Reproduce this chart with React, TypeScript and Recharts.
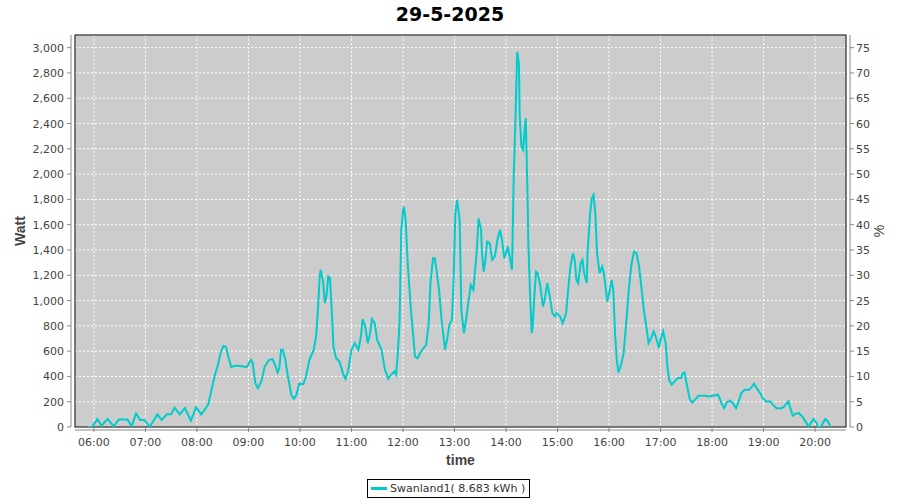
import React from 'react';
import { LineChart, Line, XAxis, YAxis, CartesianGrid, usePlotArea } from 'recharts';

const title = '29-5-2025';
const seriesName = 'Swanland1( 8.683 kWh )';

const times = [
    '05:53', '05:58', '06:04', '06:09', '06:16', '06:23', '06:29', '06:39', '06:44', '06:49',
    '06:54', '06:59', '07:05', '07:14', '07:19', '07:25', '07:30', '07:34', '07:40', '07:46',
    '07:53', '07:59', '08:05', '08:13', '08:17', '08:21', '08:24', '08:28', '08:31', '08:34',
    '08:37', '08:40', '08:44', '08:48', '08:54', '08:58', '09:03', '09:05', '09:08', '09:11',
    '09:15', '09:19', '09:24', '09:28', '09:31', '09:34', '09:36', '09:38', '09:40', '09:43',
    '09:46', '09:50', '09:53', '09:56', '09:59', '10:04', '10:07', '10:11', '10:16', '10:19',
    '10:21', '10:23', '10:24', '10:27', '10:29', '10:31', '10:33', '10:35', '10:37', '10:39',
    '10:42', '10:46', '10:50', '10:53', '10:56', '11:00', '11:04', '11:08', '11:11', '11:13',
    '11:16', '11:19', '11:21', '11:24', '11:27', '11:30', '11:35', '11:39', '11:43', '11:46',
    '11:50', '11:52', '11:54', '11:56', '11:58', '12:00', '12:01', '12:03', '12:06', '12:09',
    '12:12', '12:14', '12:17', '12:21', '12:27', '12:30', '12:32', '12:35', '12:37', '12:39',
    '12:42', '12:45', '12:49', '12:52', '12:54', '12:57', '12:59', '13:01', '13:03', '13:06',
    '13:08', '13:11', '13:14', '13:16', '13:19', '13:22', '13:26', '13:28', '13:31', '13:32',
    '13:34', '13:36', '13:38', '13:41', '13:44', '13:47', '13:50', '13:53', '13:55', '13:58',
    '14:00', '14:02', '14:05', '14:07', '14:09', '14:11', '14:13', '14:15', '14:16', '14:18',
    '14:20', '14:22', '14:23', '14:25', '14:26', '14:28', '14:30', '14:31', '14:33', '14:35',
    '14:37', '14:40', '14:43', '14:45', '14:48', '14:51', '14:54', '14:57', '14:59', '15:03',
    '15:06', '15:10', '15:12', '15:15', '15:18', '15:20', '15:22', '15:24', '15:27', '15:29',
    '15:31', '15:34', '15:35', '15:38', '15:40', '15:42', '15:44', '15:46', '15:49', '15:52',
    '15:54', '15:58', '16:01', '16:03', '16:05', '16:07', '16:09', '16:11', '16:14', '16:17',
    '16:20', '16:23', '16:26', '16:29', '16:32', '16:35', '16:38', '16:41', '16:44', '16:46',
    '16:49', '16:52', '16:55', '16:58', '17:00', '17:03', '17:06', '17:08', '17:10', '17:13',
    '17:17', '17:20', '17:24', '17:26', '17:28', '17:31', '17:34', '17:37', '17:40', '17:44',
    '17:48', '17:52', '17:57', '18:01', '18:07', '18:11', '18:14', '18:17', '18:21', '18:24',
    '18:28', '18:31', '18:34', '18:38', '18:43', '18:46', '18:49', '18:52', '18:56', '18:59',
    '19:03', '19:08', '19:11', '19:15', '19:21', '19:24', '19:29', '19:31', '19:34', '19:37',
    '19:41', '19:45', '19:50', '19:52', '19:55', '19:58', '20:02', '20:03', '20:07', '20:09',
    '20:12', '20:15', '20:18',
];

const watts = [
    0, 0, 62, 10, 65, 5, 60, 60, 5, 107,
    55, 55, 0, 100, 55, 100, 100, 154, 100, 150,
    50, 155, 100, 175, 294, 413, 478, 597, 642, 632,
    545, 473, 484, 484, 478, 473, 531, 505, 347, 307,
    360, 478, 531, 536, 492, 431, 466, 610, 610, 531,
    399, 255, 223, 255, 342, 339, 399, 531, 610, 729,
    940, 1190, 1243, 1150, 980, 1045, 1190, 1177, 926, 636,
    545, 518, 426, 379, 440, 610, 663, 610, 715, 853,
    794, 663, 715, 853, 821, 689, 610, 452, 381, 413,
    439, 413, 584, 821, 1559, 1704, 1743, 1638, 1243, 953,
    715, 557, 545, 597, 650, 821, 1138, 1335, 1335, 1243,
    1085, 848, 610, 715, 808, 848, 1164, 1691, 1796, 1638,
    926, 742, 874, 980, 1124, 1085, 1401, 1650, 1559, 1375,
    1229, 1322, 1466, 1454, 1322, 1348, 1480, 1559, 1493, 1335,
    1375, 1427, 1322, 1243, 1980, 2428, 2968, 2877, 2455, 2217,
    2191, 2375, 2442, 1862, 1454, 1058, 742, 794, 1032, 1229,
    1216, 1111, 953, 1006, 1138, 1032, 900, 874, 900, 874,
    821, 900, 1058, 1269, 1375, 1322, 1164, 1138, 1296, 1322,
    1216, 1138, 1375, 1691, 1810, 1836, 1691, 1375, 1216, 1269,
    1216, 992, 1085, 1164, 1085, 742, 531, 431, 492, 584,
    821, 1085, 1282, 1387, 1375, 1269, 1085, 900, 768, 663,
    703, 755, 703, 624, 689, 755, 663, 478, 373, 334,
    365, 387, 387, 426, 431, 320, 221, 194, 215, 247,
    247, 247, 241, 247, 255, 189, 149, 194, 210, 189,
    149, 202, 268, 294, 294, 315, 342, 307, 268, 228,
    202, 202, 175, 149, 149, 162, 202, 149, 89, 104,
    110, 83, 31, 0, 31, 62, 31, 0, 0, 31,
    62, 43, 0,
];

const hourTicks = [
    '06:00', '07:00', '08:00', '09:00', '10:00', '11:00', '12:00', '13:00',
    '14:00', '15:00', '16:00', '17:00', '18:00', '19:00', '20:00',
];
const wattTicks = [0, 200, 400, 600, 800, 1000, 1200, 1400, 1600, 1800, 2000, 2200, 2400, 2600, 2800, 3000];
const percentTicks = [0, 5, 10, 15, 20, 25, 30, 35, 40, 45, 50, 55, 60, 65, 70, 75];

const toMinutes = (t: string) => {
    const [h, m] = t.split(':').map(Number);
    return h * 60 + m;
};
const toClock = (min: number) => {
    const h = Math.floor(min / 60);
    const m = min % 60;
    return `${String(h).padStart(2, '0')}:${String(m).padStart(2, '0')}`;
};

const data = times.map((t, i) => ({ minute: toMinutes(t), watt: watts[i] }));

const LINE_COLOR = '#00cccc';
const AXIS_COLOR = '#888888';
const TEXT_COLOR = '#444444';
const TICK_FONT = 'DejaVu Sans, sans-serif';
const LABEL_FONT = 'Liberation Sans, Arial, sans-serif';

const LeftTick = ({ x, y, payload }: any) => (
    <g>
        <line x1={x - 4} y1={y} x2={x} y2={y} stroke={AXIS_COLOR} />
        <text x={x - 7} y={y + 4} textAnchor="end" fontSize={11} fill={TEXT_COLOR} fontFamily={TICK_FONT}>
            {Number(payload.value).toLocaleString('en-US')}
        </text>
    </g>
);

const RightTick = ({ x, y, payload }: any) => (
    <g>
        <line x1={x} y1={y} x2={x + 4} y2={y} stroke={AXIS_COLOR} />
        <text x={x + 6} y={y + 4} textAnchor="start" fontSize={11} fill={TEXT_COLOR} fontFamily={TICK_FONT}>
            {payload.value}
        </text>
    </g>
);

const BottomTick = ({ x, y, payload }: any) => (
    <g>
        <line x1={x} y1={y - 3} x2={x} y2={y + 1} stroke={AXIS_COLOR} />
        <text x={x} y={y + 15} textAnchor="middle" fontSize={11} fill={TEXT_COLOR} fontFamily={TICK_FONT}>
            {toClock(payload.value)}
        </text>
    </g>
);

const labelStyle = { fontSize: 14, fontWeight: 'bold' as const, fill: TEXT_COLOR, fontFamily: LABEL_FONT };

const WattLabel = ({ viewBox }: any) => {
    const cx = (viewBox?.x ?? 0) + 25;
    const cy = (viewBox?.y ?? 35) + (viewBox?.height ?? 392) / 2;
    return (
        <text x={cx} y={cy} transform={`rotate(-90 ${cx} ${cy})`} textAnchor="middle" {...labelStyle}>
            Watt
        </text>
    );
};

const PercentLabel = ({ viewBox }: any) => {
    const cx = (viewBox?.x ?? 846) + 38;
    const cy = (viewBox?.y ?? 35) + (viewBox?.height ?? 392) / 2;
    return (
        <text x={cx} y={cy} transform={`rotate(-90 ${cx} ${cy})`} textAnchor="middle" {...labelStyle} fontWeight="normal">
            %
        </text>
    );
};

const TimeLabel = ({ viewBox }: any) => {
    const cx = (viewBox?.x ?? 75) + (viewBox?.width ?? 771) / 2;
    const cy = (viewBox?.y ?? 427) + 38;
    return (
        <text x={cx} y={cy} textAnchor="middle" {...labelStyle}>
            time
        </text>
    );
};

// plot border plus the gray axis lines that sit a few pixels off the plot
const PlotFrame = () => {
    const area = usePlotArea();
    if (!area) return null;
    const { x, y, width, height } = area;
    return (
        <g>
            <rect x={x} y={y} width={width} height={height} fill="none" stroke="#000" />
            <line x1={x - 4} y1={y} x2={x - 4} y2={y + height} stroke={AXIS_COLOR} />
            <line x1={x + width + 4} y1={y} x2={x + width + 4} y2={y + height} stroke={AXIS_COLOR} />
            <line x1={x} y1={y + height + 3} x2={x + width} y2={y + height + 3} stroke={AXIS_COLOR} />
        </g>
    );
};

export default function App() {
    return (
        <div style={{ position: 'absolute', left: 0, top: 0, width: 900, height: 500, background: '#fff' }}>
            <div
                style={{
                    position: 'absolute', left: 0, top: 3, width: 900, textAlign: 'center',
                    fontFamily: 'DejaVu Sans, sans-serif', fontWeight: 'bold', fontSize: 19, lineHeight: '22px', color: '#000',
                }}
            >
                {title}
            </div>
            <LineChart width={900} height={500} data={data} margin={{ top: 35, right: 0, bottom: 33, left: 0 }}>
                <CartesianGrid yAxisId="watt" fill="#cccccc" fillOpacity={1} stroke="#ffffff" strokeDasharray="2 2" />
                <XAxis
                    dataKey="minute"
                    type="number"
                    domain={[338, 1236]}
                    ticks={hourTicks.map(toMinutes)}
                    allowDataOverflow
                    height={40}
                    axisLine={false}
                    tickLine={false}
                    tickSize={4}
                    tickMargin={0}
                    tick={<BottomTick />}
                    interval={0}
                    label={{ content: TimeLabel }}
                />
                <YAxis
                    yAxisId="watt"
                    type="number"
                    domain={[0, 3100]}
                    ticks={wattTicks}
                    allowDataOverflow
                    width={75}
                    axisLine={false}
                    tickLine={false}
                    tickSize={4}
                    tickMargin={0}
                    tick={<LeftTick />}
                    interval={0}
                    label={{ content: WattLabel }}
                />
                <YAxis
                    yAxisId="pct"
                    orientation="right"
                    type="number"
                    domain={[0, 77.5]}
                    ticks={percentTicks}
                    allowDataOverflow
                    width={54}
                    axisLine={false}
                    tickLine={false}
                    tickSize={4}
                    tickMargin={0}
                    tick={<RightTick />}
                    interval={0}
                    label={{ content: PercentLabel }}
                />
                <PlotFrame />
                <Line
                    yAxisId="watt"
                    type="linear"
                    dataKey="watt"
                    name={seriesName}
                    stroke={LINE_COLOR}
                    strokeWidth={2}
                    dot={false}
                    isAnimationActive={false}
                />
            </LineChart>
            <div
                style={{
                    position: 'absolute', left: 367, top: 479, height: 19, boxSizing: 'border-box',
                    border: '1px solid #000', display: 'flex', alignItems: 'center', padding: '0 4px 0 3px',
                    fontFamily: 'DejaVu Sans, sans-serif', fontSize: 11, color: '#333', whiteSpace: 'pre',
                }}
            >
                <span style={{ display: 'inline-block', width: 16, height: 3, background: LINE_COLOR, marginRight: 3 }} />
                {seriesName}
            </div>
        </div>
    );
}
